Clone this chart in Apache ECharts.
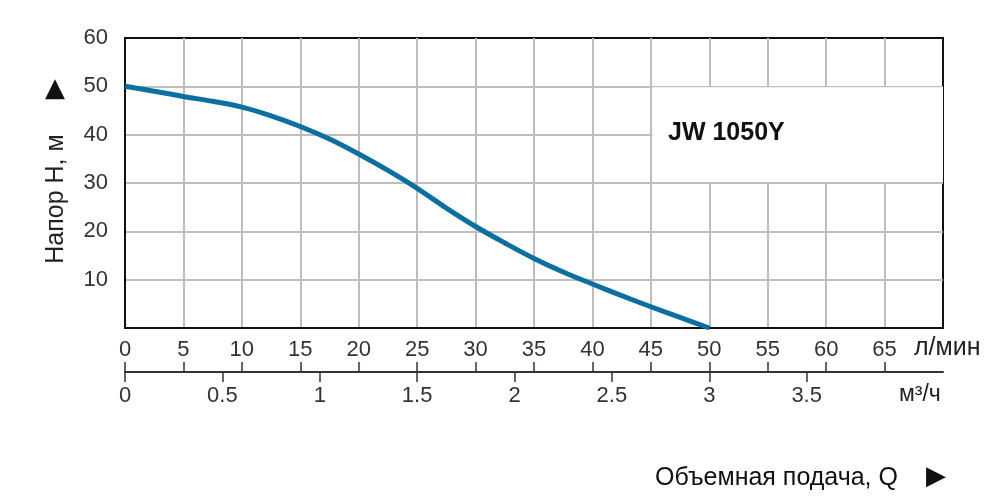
<!DOCTYPE html>
<html>
<head>
<meta charset="utf-8">
<script src="https://cdn.jsdelivr.net/npm/echarts@6/dist/echarts.min.js"></script>
<style>
  html, body { margin: 0; padding: 0; background: #fff; }
  #chart { width: 1000px; height: 504px; }
</style>
</head>
<body>
<div id="chart"></div>
<script>
// Flow in l/min and head in m
const flowLpm = [0, 2.5, 5, 7.5, 10, 12.5, 15, 17.5, 20, 22.5, 25, 27.5, 30, 32.5, 35, 37.5, 40, 42.5, 45, 47.5, 50];
const headM = [50, 49, 47.9, 46.9, 45.7, 43.9, 41.7, 39.1, 36.0, 32.6, 28.9, 24.8, 21.0, 17.6, 14.4, 11.6, 9.1, 6.7, 4.4, 2.2, 0];

// tick positions on the two flow scales
const lpmTicks = [0, 5, 10, 15, 20, 25, 30, 35, 40, 45, 50, 55, 60, 65];
const m3hTicks = [0, 0.5, 1, 1.5, 2, 2.5, 3, 3.5];
const headTicks = [10, 20, 30, 40, 50, 60];

const lpmMax = 70;
const m3hMax = 4.2;
const model = 'JW 1050Y';

const font = 'Liberation Sans, Arial, sans-serif';
const curveData = flowLpm.map((q, i) => [q, headM[i]]);

const chart = echarts.init(document.getElementById('chart'));

const option = {
  animation: false,
  grid: [
    { left: 125, right: 57, top: 38, bottom: 176, show: true, borderColor: '#111', borderWidth: 2, backgroundColor: '#fff' },
    { left: 125, right: 57, top: 372, height: 0 },
    { left: 125, right: 57, top: 372, height: 0 }
  ],
  xAxis: [
    {
      type: 'value', gridIndex: 0, min: 0, max: lpmMax, interval: 5,
      axisLine: { show: true, lineStyle: { color: '#111', width: 2 } },
      axisTick: { show: false },
      axisLabel: { color: '#333', fontSize: 22, fontFamily: font, margin: 11, customValues: lpmTicks },
      splitLine: { show: true, showMinLine: false, showMaxLine: false, lineStyle: { color: '#bdbdbd', width: 2 } }
    },
    {
      // m3/h scale under the main axis, ticks pointing down
      type: 'value', gridIndex: 1, position: 'bottom', min: 0, max: m3hMax,
      axisLine: { show: true, onZero: false, lineStyle: { color: '#3a3030', width: 2 } },
      axisTick: { show: true, inside: false, length: 10, customValues: m3hTicks, lineStyle: { color: '#3a3030', width: 1.5 } },
      axisLabel: { color: '#333', fontSize: 22, fontFamily: font, margin: 13, customValues: m3hTicks },
      splitLine: { show: false }
    },
    {
      // l/min ticks pointing up on the same line
      type: 'value', gridIndex: 2, position: 'top', min: 0, max: lpmMax,
      axisLine: { show: false, onZero: false },
      axisTick: { show: true, inside: false, length: 10, customValues: lpmTicks, lineStyle: { color: '#3a3030', width: 1.5 } },
      axisLabel: { show: false },
      splitLine: { show: false }
    }
  ],
  yAxis: [
    {
      type: 'value', gridIndex: 0, min: 0, max: 60, interval: 10,
      axisLine: { show: true, lineStyle: { color: '#111', width: 2 } },
      axisTick: { show: false },
      axisLabel: { color: '#333', fontSize: 22, fontFamily: font, margin: 17, customValues: headTicks },
      splitLine: { show: true, showMinLine: false, showMaxLine: false, lineStyle: { color: '#bdbdbd', width: 2 } }
    },
    { type: 'value', gridIndex: 1, show: false, min: 0, max: 1 },
    { type: 'value', gridIndex: 2, show: false, min: 0, max: 1 }
  ],
  series: [
    {
      type: 'line', xAxisIndex: 0, yAxisIndex: 0,
      data: curveData,
      smooth: 0.35,
      showSymbol: false,
      lineStyle: { color: '#0b70a0', width: 5 },
      markArea: {
        silent: true,
        itemStyle: { color: '#fff' },
        data: [[{ coord: [45.15, 30.2] }, { coord: [lpmMax, 49.8] }]]
      }
    }
  ],
  graphic: [
    { type: 'text', z: 100, left: 668, top: 121, style: { text: model, font: 'bold 25px ' + font, fill: '#111' } },
    { type: 'text', z: 100, left: 914, top: 336, style: { text: 'л/мин', font: '25px ' + font, fill: '#222' } },
    { type: 'text', z: 100, left: 899, top: 383, style: { text: 'м³/ч', font: '23px ' + font, fill: '#222' } },
    { type: 'text', z: 100, left: 655, top: 466, style: { text: 'Объемная подача, Q', font: '25px ' + font, fill: '#111' } },
    { type: 'text', z: 100, left: 926, top: 464, style: { text: '▶', font: '26px DejaVu Sans, sans-serif', fill: '#111' } },
    { type: 'text', z: 100, left: 45, top: 76, style: { text: '▲', font: '26px DejaVu Sans, sans-serif', fill: '#111' } },
    {
      type: 'text', z: 100, x: 56, y: 199, rotation: Math.PI / 2,
      style: { text: 'Напор H, м', font: '25px ' + font, fill: '#222', align: 'center', verticalAlign: 'middle' }
    }
  ]
};

chart.setOption(option);
</script>
</body>
</html>
